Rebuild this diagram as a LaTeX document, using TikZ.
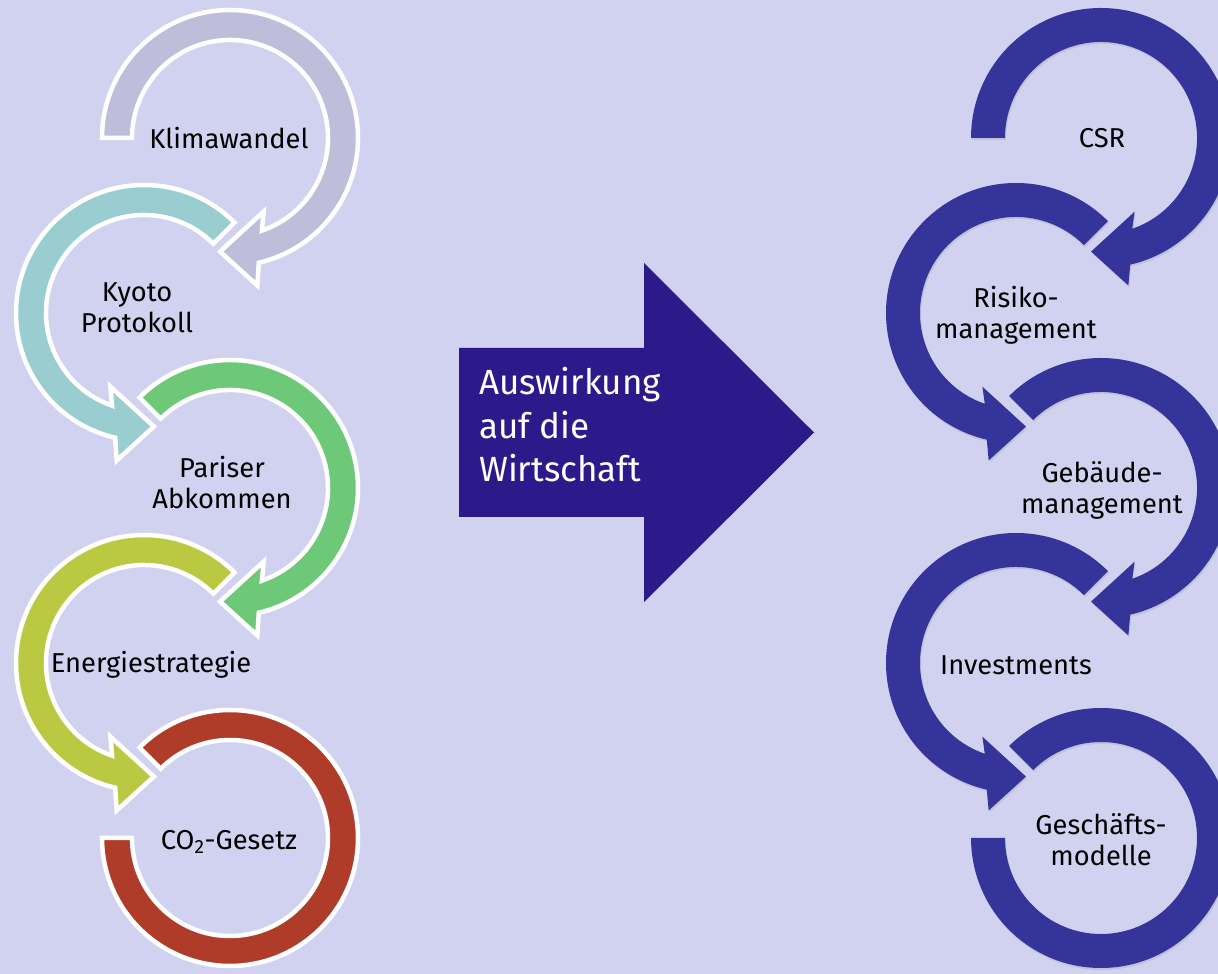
\documentclass[tikz,border=0pt]{standalone}
\usepackage{fontspec}
\setmainfont{Fira Sans}
\usetikzlibrary{shadows}

\definecolor{bgcol}{HTML}{D1D2F0}
\definecolor{klima}{HTML}{BEBDDA}
\definecolor{kyoto}{HTML}{99CDD0}
\definecolor{paris}{HTML}{6DC978}
\definecolor{energie}{HTML}{BAC941}
\definecolor{cogesetz}{HTML}{AF3C28}
\definecolor{wirt}{HTML}{35349A}
\definecolor{pfeil}{HTML}{2D1A8A}

% ring piece with arrow head at the bottom (draw it in a shifted scope)
\newcommand{\headswirl}[2]{%
  \path[#1] (#2:\ro) arc[start angle=#2, end angle=-77, radius=\ro]
    -- (-79.5:150pt) -- (-95:114pt) -- (-65.5:81pt) -- (-71:\ri)
    arc[start angle=-71, end angle=#2, radius=\ri] -- cycle;}
% ring piece without head
\newcommand{\tailswirl}[3]{%
  \path[#1] (#2:\ro) arc[start angle=#2, end angle=#3, radius=\ro]
    -- (#3:\ri) arc[start angle=#3, end angle=#2, radius=\ri] -- cycle;}

\tikzset{
  leftarc/.style={fill=#1, draw=white, line width=4.5pt},
  rightarc/.style={fill=wirt, drop shadow={opacity=0.2, shadow xshift=1pt, shadow yshift=-2pt}},
  lbl/.style={font=\fontsize{27.3}{31}\selectfont, align=center, inner sep=0pt},
  arrowtxt/.style={font=\fontsize{35}{43.5}\selectfont, align=left, text=white, inner sep=0pt},
}

\begin{document}
\begin{tikzpicture}[x=1pt,y=1pt]
\useasboundingbox (0,0) rectangle (1218,974);
\clip (0,0) rectangle (1218,974);
\fill[bgcol] (0,0) rectangle (1218,974);

% left column
\def\ro{128pt}\def\ri{98pt}
\begin{scope}[shift={(230,836)}] \headswirl{leftarc=klima}{180} \end{scope}
\begin{scope}[shift={(144,661)},xscale=-1] \headswirl{leftarc=kyoto}{135} \end{scope}
\begin{scope}[shift={(230,486)}] \headswirl{leftarc=paris}{135} \end{scope}
\begin{scope}[shift={(144,311)},xscale=-1] \headswirl{leftarc=energie}{135} \end{scope}
\begin{scope}[shift={(230,136)}] \tailswirl{leftarc=cogesetz}{135}{-180} \end{scope}

\node[lbl] (klimawandel) at (229,836) {Klimawandel};
\node[lbl] (kyoto) at (137,666) {Kyoto\\Protokoll};
\node[lbl] (pariser) at (222,491) {Pariser\\Abkommen};
\node[lbl] (energiestr) at (151,309) {Energiestrategie};
\node[lbl] (co2) at (229,132) {CO\textsubscript{2}-Gesetz};

% middle arrow
\fill[pfeil] (459,457) -- (644,457) -- (644,372) -- (814,541.5) -- (644,711) -- (644,626) -- (459,626) -- cycle;
\node[arrowtxt, anchor=north west] (auswirkung) at (479,606.5) {Auswirkung\\auf die\\Wirtschaft};

% right column
\def\ro{130pt}\def\ri{96pt}
\begin{scope}[shift={(1101,836)}] \headswirl{rightarc}{180} \end{scope}
\begin{scope}[shift={(1016,661)},xscale=-1] \headswirl{rightarc}{135} \end{scope}
\begin{scope}[shift={(1101,486)}] \headswirl{rightarc}{135} \end{scope}
\begin{scope}[shift={(1016,311)},xscale=-1] \headswirl{rightarc}{135} \end{scope}
\begin{scope}[shift={(1101,136)}] \tailswirl{rightarc}{135}{-180} \end{scope}

\node[lbl] (csr) at (1102,836) {CSR};
\node[lbl] (risiko) at (1016,659) {Risiko-\\management};
\node[lbl] (gebaeude) at (1102,484) {Gebäude-\\management};
\node[lbl] (invest) at (1016,309) {Investments};
\node[lbl] (geschaeft) at (1101,134) {Geschäfts-\\modelle};
\end{tikzpicture}
\end{document}
